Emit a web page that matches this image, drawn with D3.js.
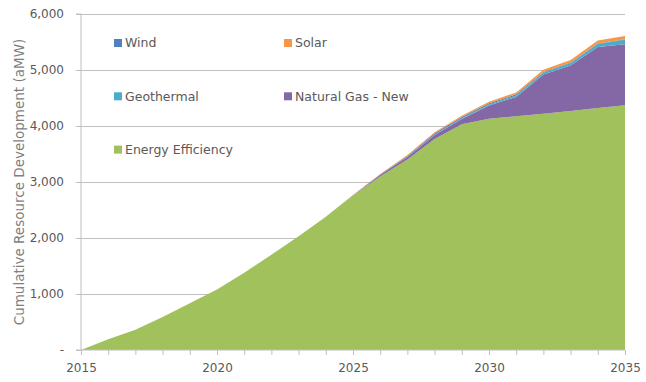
<!DOCTYPE html>
<html><head><meta charset="utf-8">
<script src="https://cdn.jsdelivr.net/npm/d3@7"></script>
<style>body{margin:0;background:#fff}svg{display:block}text{font-family:"DejaVu Sans",sans-serif}</style>
</head><body><svg id="c" width="646" height="382"></svg>
<script>
const years = [2015,2016,2017,2018,2019,2020,2021,2022,2023,2024,2025,2026,2027,2028,2029,2030,2031,2032,2033,2034,2035];
const energyEfficiency = [0,190,360,590,835,1080,1380,1700,2030,2380,2760,3100,3400,3770,4030,4130,4175,4220,4270,4320,4370];
const naturalGasNew    = [0,0,0,0,0,0,0,0,0,0,0,25,45,70,95,235,345,700,810,1090,1090];
const geothermal       = [0,0,0,0,0,0,0,0,0,0,0,0,5,10,15,20,25,30,40,55,80];
const wind             = [0,0,0,0,0,0,0,0,0,0,5,10,15,20,20,20,20,15,15,10,10];
const solar            = [0,0,0,0,0,0,0,0,0,0,5,10,15,20,25,30,35,40,45,50,55];
const yTicks = [0,1000,2000,3000,4000,5000,6000];
const xLabels = [2015,2020,2025,2030,2035];
const seriesNames = ["Energy Efficiency","Natural Gas - New","Geothermal","Wind","Solar"];
const colors = {"Energy Efficiency":"#A1C15C","Natural Gas - New":"#8467A5","Geothermal":"#4BACC6","Wind":"#4F81BD","Solar":"#F79646"};

const svg = d3.select("#c");
const m = {l:81, r:21, t:14, b:32};
const W = 646, H = 382;
const x = d3.scaleLinear().domain([2015,2035]).range([m.l, W-m.r]);
const y = d3.scaleLinear().domain([0,6000]).range([H-m.b, m.t]);

const rows = years.map((yr,i)=>({year:yr,"Energy Efficiency":energyEfficiency[i],"Natural Gas - New":naturalGasNew[i],"Geothermal":geothermal[i],"Wind":wind[i],"Solar":solar[i]}));
const stack = d3.stack().keys(seriesNames)(rows);

// gridlines
svg.append("g").selectAll("line").data(yTicks.slice(1)).join("line")
  .attr("x1",m.l).attr("x2",W-m.r).attr("y1",d=>y(d)).attr("y2",d=>y(d))
  .attr("stroke","#C0C0C0").attr("stroke-width",1).attr("shape-rendering","crispEdges");

const area = d3.area().x(d=>x(d.data.year)).y0(d=>y(d[0])).y1(d=>y(d[1]));
svg.append("g").selectAll("path").data(stack).join("path")
  .attr("d",area).attr("fill",d=>colors[d.key]);

// y axis
const yAxis = d3.axisLeft(y).tickValues(yTicks).tickSize(5).tickPadding(12)
  .tickFormat(d=> d===0 ? "-" : d3.format(",")(d));
const gy = svg.append("g").attr("transform",`translate(${m.l},0)`).call(yAxis);
gy.select(".domain").attr("stroke","#BFBFBF").attr("d",`M-5,${y(6000)}H0V${y(0)}H-5`);
gy.selectAll(".tick line").attr("stroke","#BFBFBF");
gy.selectAll("text").attr("fill","#595959").style("font-size","12px");

// x axis
const xAxis = d3.axisBottom(x).tickValues(years).tickSize(5).tickPadding(8)
  .tickFormat(d=> xLabels.includes(d) ? String(d) : "");
const gx = svg.append("g").attr("transform",`translate(0,${y(0)})`).call(xAxis);
gx.select(".domain").attr("stroke","#BFBFBF").attr("d",`M${m.l},0H${W-m.r}`);
gx.selectAll(".tick line").attr("stroke","#BFBFBF");
gx.selectAll("text").attr("fill","#595959").style("font-size","12px");

// y title
svg.append("text").attr("transform",`translate(19,${(y(0)+y(6000))/2}) rotate(-90)`)
  .attr("text-anchor","middle").attr("dy","0.35em").attr("fill","#7F7F7F").style("font-size","13.5px")
  .text("Cumulative Resource Development (aMW)");

// legend
const legendItems = [
  {name:"Wind", col:0,row:0},{name:"Solar",col:1,row:0},
  {name:"Geothermal",col:0,row:1},{name:"Natural Gas - New",col:1,row:1},
  {name:"Energy Efficiency",col:0,row:2}];
const lg = svg.append("g");
legendItems.forEach(it=>{
  const lx = 118 + it.col*170, ly = 43 + it.row*53.3;
  lg.append("rect").attr("x",lx-4).attr("y",ly-4).attr("width",8).attr("height",8).attr("fill",colors[it.name]);
  lg.append("text").attr("x",lx+7).attr("y",ly).attr("dy","0.35em").attr("fill","#595959")
    .style("font-size","12.5px").text(it.name);
});
</script></body></html>
